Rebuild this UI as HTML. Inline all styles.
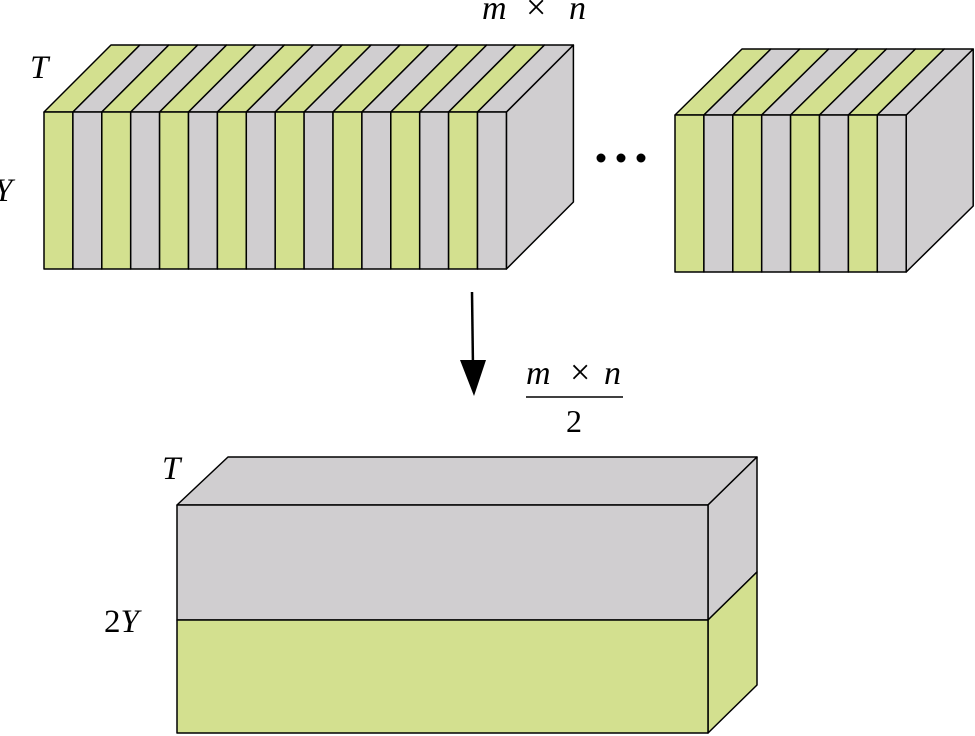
<!DOCTYPE html>
<html><head><meta charset="utf-8"><style>
html,body{margin:0;padding:0;background:#fff}
svg{display:block}
text{font-family:"Liberation Serif",serif;fill:#000}
.it{font-style:italic}
.up{font-style:normal}
</style></head><body>
<svg id="fig" width="975" height="736" viewBox="0 0 975 736" xmlns="http://www.w3.org/2000/svg">
<g id="top-left"></g>
<g id="top-right"></g>
<g stroke="#000" stroke-width="1.5" stroke-linejoin="round">
  <polygon points="177,505 228,457 757,457 708,505" fill="#d0ced0"/>
  <polygon points="708,505 757,457 757,572 708,620" fill="#d0ced0"/>
  <polygon points="708,620 757,572 757,685 708,733" fill="#d3e08f"/>
  <rect x="177" y="505" width="531" height="115" fill="#d0ced0"/>
  <rect x="177" y="620" width="531" height="113" fill="#d3e08f"/>
</g>
<g>
  <line x1="472" y1="292" x2="473" y2="368" stroke="#000" stroke-width="2.5"/>
  <polygon points="460,360 486,360 474,396" fill="#000"/>
</g>
<g fill="#000">
  <circle cx="601" cy="158" r="4.5"/><circle cx="621" cy="158" r="4.5"/><circle cx="641" cy="158" r="4.5"/>
</g>
<g font-size="34">
  <text class="it" x="482" y="19">m</text>
  <text class="up" x="526" y="19" font-size="36">×</text>
  <text class="it" x="569" y="19">n</text>
</g>
<text class="it" x="30" y="78" font-size="33">T</text>
<text class="it" x="-6" y="201" font-size="33">Y</text>
<g font-size="34">
  <text class="it" x="526" y="384">m</text>
  <text class="up" x="570" y="384" font-size="36">×</text>
  <text class="it" x="604" y="384">n</text>
</g>
<line x1="526" y1="397" x2="623" y2="397" stroke="#000" stroke-width="1.5"/>
<text class="up" x="566" y="432" font-size="32">2</text>
<text class="it" x="162" y="479" font-size="33">T</text>
<text class="it" x="104" y="632" font-size="33"><tspan class="up">2</tspan>Y</text>
</svg>
<script>
const leftColors=["g","y","g","y","g","y","g","y","g","y","g","y","g","y","g","y"];
const rightColors=["g","y","g","y","g","y","g","y"];
const NS="http://www.w3.org/2000/svg";
const fill={g:"#d3e08f",y:"#d0ced0"};
function block(id,x0,yTop,yBot,w,dx,dy,colors,prefix){
  const g=document.getElementById(id);
  const n=colors.length;
  function poly(pts,f,name){
    const p=document.createElementNS(NS,"polygon");
    p.setAttribute("points",pts.map(a=>a.join(",")).join(" "));
    p.setAttribute("fill",f);p.setAttribute("stroke","#000");p.setAttribute("stroke-width","1.5");p.setAttribute("stroke-linejoin","round");
    
    
    g.appendChild(p);
  }
  const xr=x0+n*w;
  poly([[xr,yTop],[xr+dx,yTop-dy],[xr+dx,yBot-dy],[xr,yBot]],"#d0ced0",prefix+"-side");
  colors.forEach((c,i)=>{
    const x=x0+i*w;
    poly([[x,yTop],[x+dx,yTop-dy],[x+w+dx,yTop-dy],[x+w,yTop]],fill[c],prefix+"-slab-top-"+i);
    poly([[x,yTop],[x+w,yTop],[x+w,yBot],[x,yBot]],fill[c],prefix+"-slab-"+i);
  });
}
block("top-left",44,112,269,28.9,67,67,leftColors,"left");
block("top-right",675,115,272,28.9,67,66,rightColors,"right");
</script>
</body></html>
